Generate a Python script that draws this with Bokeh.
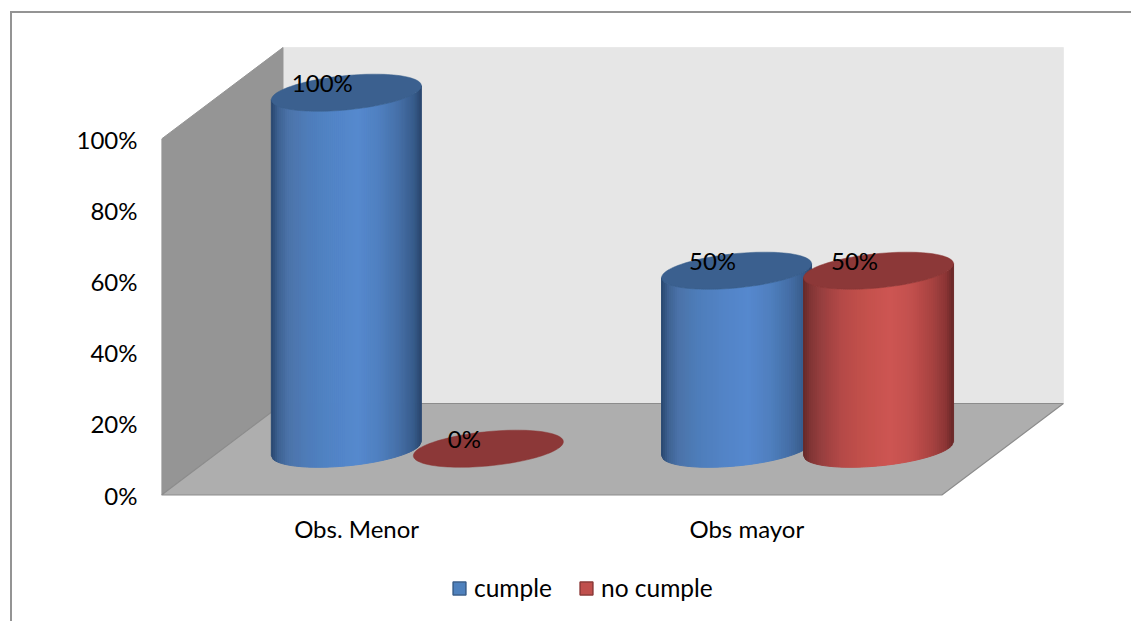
import numpy as np
from bokeh.plotting import figure
from bokeh.layouts import column
from bokeh.embed import file_html
from bokeh.resources import INLINE
from bokeh.models import Range1d, FixedTicker, Legend, LegendItem, InlineStyleSheet
from bokeh.core.properties import value

categories = ["Obs. Menor", "Obs mayor"]
cumple = [100, 50]
no_cumple = [0, 50]
y_ticks = [0, 20, 40, 60, 80, 100]
y_tick_labels = ["0%", "20%", "40%", "60%", "80%", "100%"]
series_names = ["cumple", "no cumple"]

FONT = "Lato"
FS = "24px"
PX_X, PX_Y = 390.2, 3.56
X_END = 970 / PX_X
Y_START, Y_END = -1.5 / PX_Y, 494.5 / PX_Y


def project(x, y, z):
    """3D chart space (category, value, depth 0..1) to 2D data space."""
    return x + z * 121.5 / PX_X, y + z * 25.7


p = figure(width=1131, height=560, output_backend="svg", toolbar_location=None,
           x_range=Range1d(0, X_END), y_range=Range1d(Y_START, Y_END),
           min_border_left=161, min_border_right=0, min_border_top=0, min_border_bottom=64,
           background_fill_color="white", border_fill_color="white", outline_line_color=None)
p.grid.visible = False
p.stylesheets = [InlineStyleSheet(css=":host::before{content:'';position:absolute;left:10px;top:11px;"
                                      "right:0;bottom:0;border-left:2px solid #949494;"
                                      "border-top:2px solid #949494;pointer-events:none;z-index:5}")]

# axes
p.yaxis.ticker = FixedTicker(ticks=y_ticks)
p.yaxis.major_label_overrides = {t: s for t, s in zip(y_ticks, y_tick_labels)}
p.xaxis.ticker = FixedTicker(ticks=[i + 0.5 for i in range(len(categories))])
p.xaxis.major_label_overrides = {i + 0.5: c for i, c in enumerate(categories)}
for ax in (p.xaxis[0], p.yaxis[0]):
    ax.axis_line_color = None
    ax.major_tick_line_color = None
    ax.minor_tick_line_color = None
    ax.major_label_text_font = FONT
    ax.major_label_text_font_size = FS
    ax.major_label_text_color = "#000000"
p.yaxis.major_label_standoff = 18
p.xaxis.major_label_standoff = 11

# walls and floor
x_max, y_max = len(categories), y_ticks[-1]
corners = lambda pts: tuple(map(list, zip(*[project(*c) for c in pts])))
bx, by = corners([(0, 0, 1), (x_max, 0, 1), (x_max, y_max, 1), (0, y_max, 1)])
p.patch(bx, by, fill_color="#e6e6e6", line_color="#e9e9e9", line_width=1)
lx, ly = corners([(0, 0, 0), (0, y_max, 0), (0, y_max, 1), (0, 0, 1)])
p.patch(lx, ly, fill_color="#959595", line_color="#959595", line_width=1)
fx, fy = corners([(0, 0, 0), (0, 0, 1), (x_max, 0, 1), (x_max, 0, 0)])
p.patch(fx, fy, fill_color="#aeaeae", line_color="#8c8c8c", line_width=1.2)

# cylinders
A = 75 / PX_X
B = 17.2 / PX_Y
S = 7.0 / PX_Y
OFFSET = 71 / PX_X
LIFT = 0.15
STOPS = [0, .05, .12, .25, .4, .58, .72, .85, .95, 1]
RAMPS = {
    0: ([40, 62, 76, 78, 82, 85, 80, 70, 56, 42],
        [70, 98, 116, 125, 132, 137, 128, 112, 92, 70],
        [110, 146, 170, 186, 198, 206, 192, 168, 140, 110]),
    1: ([100, 130, 150, 180, 195, 205, 195, 170, 140, 105],
        [40, 54, 62, 74, 80, 85, 80, 68, 54, 40],
        [40, 54, 62, 72, 76, 82, 78, 66, 54, 40]),
}
TOPS = {0: "#3b608f", 1: "#8c3838"}
EDGES = {0: "#385d8a", 1: "#8c3836"}
FILLS = {0: "#4f81bd", 1: "#c0504d"}
N = 75
u = np.linspace(-1, 1, N + 1)
ux, uy = u, np.sqrt(np.clip(1 - u * u, 0, 1))


def cylinder(cat, sign, val, s_idx):
    x0, y0 = project(cat + 0.5 + sign * OFFSET, LIFT, 0.5)
    x1, y1 = project(cat + 0.5 + sign * OFFSET, val + LIFT, 0.5)
    if val > 0:
        xs, ys, cols = [], [], []
        arc_x = x0 + A * ux
        arc_off = S * ux - B * uy
        for i in range(N):
            xs.append([arc_x[i], arc_x[i + 1], arc_x[i + 1], arc_x[i]])
            ys.append([y1 + arc_off[i], y1 + arc_off[i + 1], y0 + arc_off[i + 1], y0 + arc_off[i]])
            f = 0.5 * (ux[i] + ux[i + 1]) * 0.5 + 0.5
            c = [int(round(np.interp(f, STOPS, ch))) for ch in RAMPS[s_idx]]
            cols.append("#%02x%02x%02x" % tuple(c))
        p.patches(xs, ys, fill_color=cols, line_color=cols, line_width=1)
    tt = np.linspace(0, 2 * np.pi, 121)
    p.patch(x1 + A * np.cos(tt), y1 + S * np.cos(tt) + B * np.sin(tt),
            fill_color=TOPS[s_idx], line_color=EDGES[s_idx], line_width=0.7, line_alpha=0.7)
    return x1, y1


labels = []
for c in range(len(categories)):
    for s_idx, (vals, sign) in enumerate(((cumple, -1), (no_cumple, 1))):
        x1, y1 = cylinder(c, sign, vals[c], s_idx)
        labels.append((x1, y1, f"{vals[c]}%"))

p.text([l[0] for l in labels], [l[1] for l in labels], text=[l[2] for l in labels],
       x_offset=-24, y_offset=-10, text_align="center", text_baseline="middle",
       text_font=value(FONT), text_font_size=FS, text_color="#000000")

# legend, in a strip of its own under the plot
lf = figure(width=1131, height=61, output_backend="svg", toolbar_location=None,
            x_range=Range1d(0, 1), y_range=Range1d(0, 1),
            min_border_left=0, min_border_right=0, min_border_top=0, min_border_bottom=0,
            background_fill_color="white", border_fill_color="white", outline_line_color=None)
lf.axis.visible = False
lf.grid.visible = False
lf.stylesheets = [InlineStyleSheet(css=":host::before{content:'';position:absolute;left:10px;top:0;"
                                       "bottom:0;border-left:2px solid #949494;"
                                       "pointer-events:none;z-index:5}")]
items = []
for s_idx, name in enumerate(series_names):
    r = lf.quad(left=[np.nan], right=[np.nan], top=[np.nan], bottom=[np.nan],
                fill_color=FILLS[s_idx], line_color=EDGES[s_idx], line_width=1.5)
    items.append(LegendItem(label=name, renderers=[r]))
legend = Legend(items=items, orientation="horizontal", location=(290, 19),
                padding=0, margin=0, spacing=26, glyph_width=16, glyph_height=16,
                label_standoff=7, label_text_font=FONT, label_text_font_size="24.5px",
                label_text_color="#000000", border_line_color=None, background_fill_alpha=0)
lf.add_layout(legend, "center")

open("out.html", "w").write(file_html(column(p, lf, spacing=0), INLINE))
